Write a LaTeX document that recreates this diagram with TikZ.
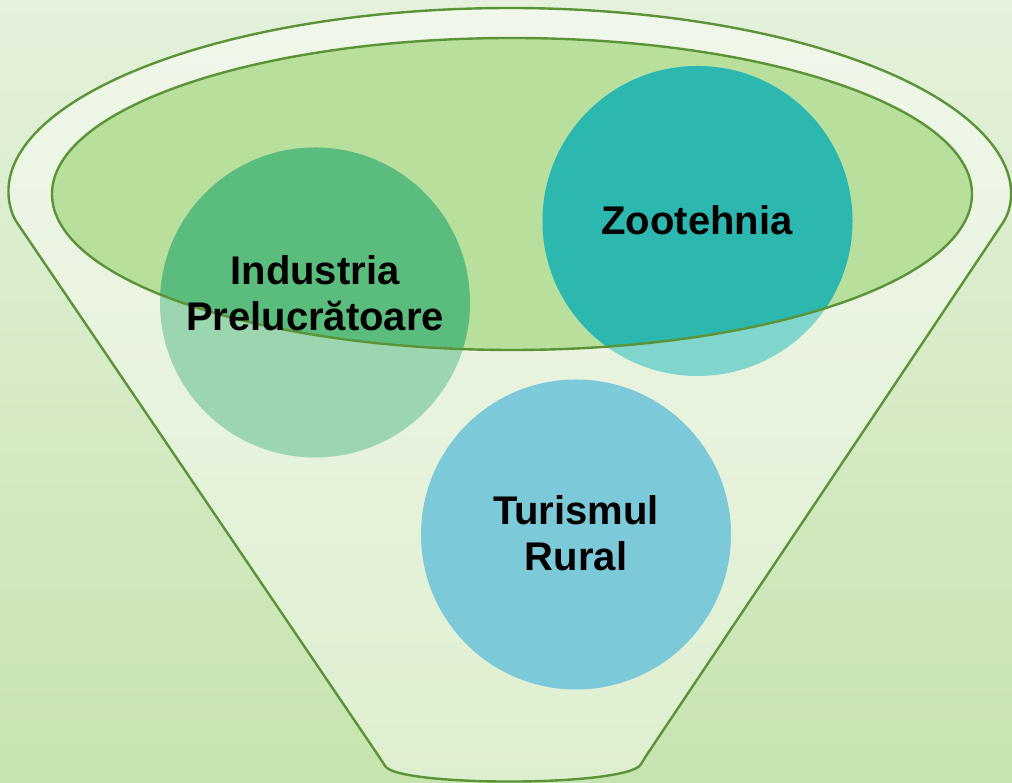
\documentclass[tikz,border=0pt]{standalone}
\usepackage{fontspec}
\setmainfont{Liberation Sans}
\definecolor{bgtop}{HTML}{E5F1DB}
\definecolor{bgbot}{HTML}{C7E4AF}
\definecolor{funtop}{HTML}{F1F7EB}
\definecolor{funbot}{HTML}{DEEFCF}
\definecolor{ellfill}{HTML}{B8DF9C}
\definecolor{edge}{HTML}{5B9337}
\definecolor{indin}{HTML}{5BBD7D}
\definecolor{indout}{HTML}{9CD6B0}
\definecolor{zooin}{HTML}{2CB8AF}
\definecolor{zooout}{HTML}{80D5CD}
\definecolor{turc}{HTML}{7BC9D9}
\tikzset{
  outline/.style={draw=edge, line width=2.4pt},
  lbl/.style={font=\fontsize{40}{46}\selectfont\bfseries, align=center, text=black}
}
\begin{document}
\begin{tikzpicture}[x=1pt,y=1pt]
\useasboundingbox (0,0) rectangle (1012,783);
\shade[top color=bgtop, bottom color=bgbot] (0,0) rectangle (1012,783);
% funnel outer shape
\path[top color=funtop, bottom color=funbot, outline, rounded corners=6pt]
  (13.7,565.2) arc[start angle=187, end angle=-7, x radius=500, y radius=187]
  -- (644,24) .. controls (628,-4) and (398,-4) .. (382,22) -- cycle;
% inner ellipse
\fill[ellfill] (512,589) ellipse[x radius=460, y radius=156];
% circles
\coordinate (cI) at (315,480.5);
\coordinate (cZ) at (697.5,562);
\coordinate (cT) at (576,248.5);
\fill[indout] (cI) circle[radius=155];
\fill[zooout] (cZ) circle[radius=155];
\begin{scope}
  \clip (512,589) ellipse[x radius=460, y radius=156];
  \fill[indin] (cI) circle[radius=155];
  \fill[zooin] (cZ) circle[radius=155];
\end{scope}
\fill[turc] (cT) circle[radius=155];
\draw[outline] (512,589) ellipse[x radius=460, y radius=156];
% labels
\node[lbl] (ind) at (315,490) {Industria\\Prelucrătoare};
\node[lbl] (zoo) at (697,563) {Zootehnia};
\node[lbl] (tur) at (576,250) {Turismul\\Rural};
\end{tikzpicture}
\end{document}
